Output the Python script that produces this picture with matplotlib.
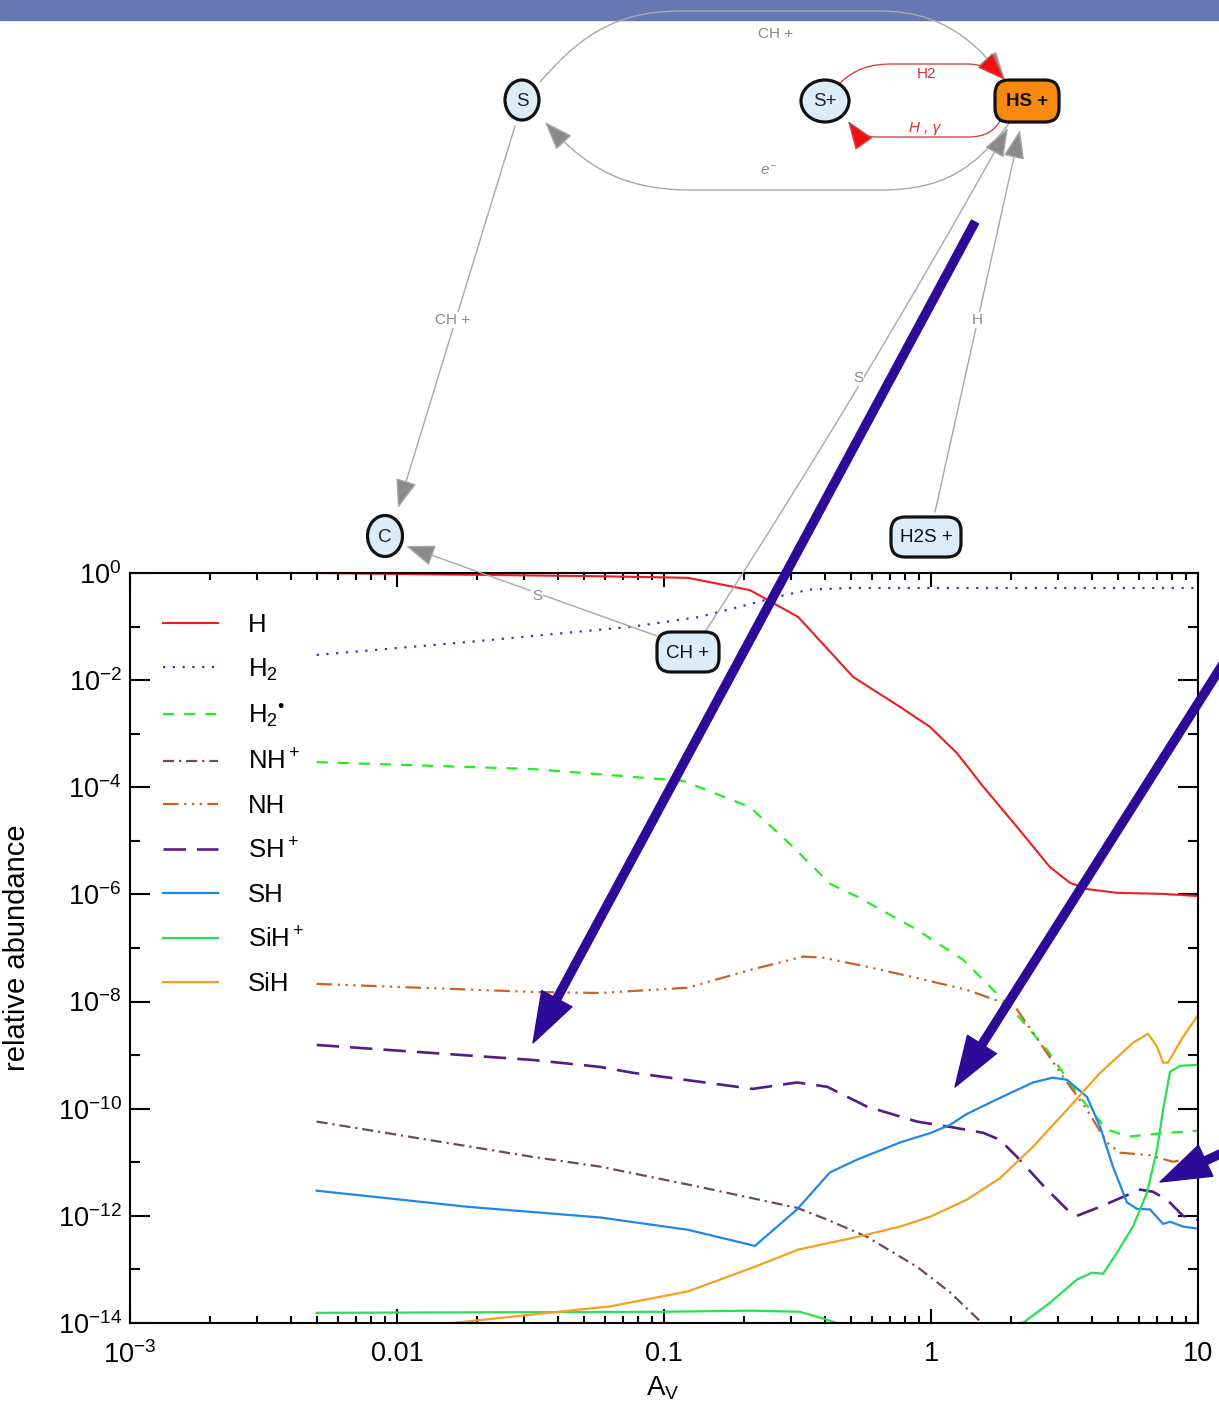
import numpy as np
import matplotlib
matplotlib.use("Agg")
import matplotlib.pyplot as plt
from matplotlib.patches import Ellipse, FancyBboxPatch, FancyArrowPatch, Rectangle
from matplotlib.path import Path
from matplotlib.ticker import FixedLocator, FixedFormatter, FuncFormatter, NullFormatter, LogLocator

plt.rcParams['font.family'] = ['Liberation Sans', 'DejaVu Sans']
plt.rcParams['mathtext.fontset'] = 'custom'
plt.rcParams['mathtext.rm'] = 'Liberation Sans'
plt.rcParams['mathtext.it'] = 'Liberation Sans:italic'
plt.rcParams['mathtext.bf'] = 'Liberation Sans:bold'

# --- abundances (A_V, log10 n(X)/nH) ---
av_H = [0.005, 0.057, 0.123, 0.21, 0.318, 0.511, 0.766, 0.99, 1.25, 1.57, 2.10, 2.79, 3.31, 3.84, 4.97, 7.40, 10.0]
lg_H = [0.0, -0.06, -0.09, -0.32, -0.82, -1.94, -2.50, -2.87, -3.36, -3.99, -4.74, -5.49, -5.78, -5.90, -5.97, -5.99, -6.03]

av_H2 = [0.005, 0.0183, 0.0766, 0.136, 0.21, 0.279, 0.35, 0.5, 10.0]
lg_H2 = [-1.53, -1.29, -1.0, -0.82, -0.58, -0.42, -0.31, -0.28, -0.28]

av_H2s = [0.005, 0.0323, 0.118, 0.21, 0.304, 0.394, 0.418, 0.529, 0.886, 1.32, 1.98, 2.72, 3.61, 4.56, 5.5, 7.66, 10.0]
lg_H2s = [-3.53, -3.66, -3.88, -4.37, -5.11, -5.67, -5.80, -6.04, -6.66, -7.22, -8.10, -8.90, -9.78, -10.39, -10.52, -10.45, -10.41]

av_NHp = [0.005, 0.0323, 0.0576, 0.136, 0.315, 0.408, 0.575, 0.886, 1.18, 1.53, 1.8]
lg_NHp = [-10.24, -10.90, -11.08, -11.46, -11.85, -12.07, -12.39, -12.95, -13.43, -13.97, -14.4]

av_NH = [0.005, 0.0323, 0.0576, 0.123, 0.21, 0.332, 0.394, 0.575, 0.886, 1.36, 1.81, 2.10, 2.56, 3.12, 3.84, 4.56, 5.10, 6.61, 8.06, 10.0]
lg_NH = [-7.67, -7.82, -7.84, -7.74, -7.41, -7.16, -7.18, -7.35, -7.56, -7.78, -8.0, -8.15, -8.77, -9.40, -10.02, -10.63, -10.82, -10.87, -10.99, -10.90]

av_SHp = [0.005, 0.0323, 0.0576, 0.0766, 0.215, 0.315, 0.408, 0.575, 0.886, 1.18, 1.57, 1.81, 2.10, 2.66, 3.23, 3.52, 4.30, 6.06, 6.78, 7.66, 8.79, 10.0]
lg_SHp = [-8.81, -9.09, -9.22, -9.33, -9.63, -9.51, -9.59, -9.96, -10.24, -10.34, -10.45, -10.58, -10.90, -11.46, -11.88, -12.0, -11.83, -11.51, -11.55, -11.70, -12.0, -12.07]

av_SH = [0.005, 0.0183, 0.0576, 0.123, 0.219, 0.315, 0.418, 0.529, 0.766, 1.0, 1.18, 1.36, 1.81, 2.41, 2.86, 3.23, 3.84, 4.30, 4.80, 5.42, 5.91, 6.61, 7.40, 7.86, 8.79, 10.0]
lg_SH = [-11.53, -11.83, -12.03, -12.26, -12.56, -11.88, -11.19, -10.95, -10.63, -10.45, -10.30, -10.10, -9.80, -9.51, -9.42, -9.46, -9.78, -10.34, -11.08, -11.75, -11.87, -11.88, -12.15, -12.11, -12.20, -12.24]

av_SiHp = [0.005, 0.1, 0.21, 0.323, 0.384, 0.445, 0.6, 1.0, 1.8, 2.21, 2.79, 3.52, 4.01, 4.41, 4.97, 5.71, 6.44, 7.02, 7.40, 7.86, 8.56, 10.0]
lg_SiHp = [-13.81, -13.79, -13.77, -13.79, -13.90, -14.0, -14.8, -16.0, -14.8, -14.0, -13.62, -13.19, -13.06, -13.08, -12.69, -12.20, -11.57, -10.77, -10.02, -9.31, -9.20, -9.18]

av_SiH = [0.0125, 0.0162, 0.0323, 0.0628, 0.123, 0.219, 0.318, 0.511, 0.766, 1.0, 1.36, 1.81, 2.41, 3.23, 4.30, 5.71, 6.50, 7.02, 7.40, 7.72, 8.79, 10.0]
lg_SiH = [-14.2, -14.0, -13.84, -13.69, -13.41, -12.95, -12.63, -12.41, -12.20, -12.01, -11.70, -11.30, -10.71, -10.02, -9.33, -8.77, -8.60, -8.84, -9.14, -9.14, -8.66, -8.25]

species = ["H", "H$_2$", "H$_2{}^{\u2022}$", "NH$^+$", "NH", "SH$^+$", "SH", "SiH$^+$", "SiH"]
series_av = [av_H, av_H2, av_H2s, av_NHp, av_NH, av_SHp, av_SH, av_SiHp, av_SiH]
series_lg = [lg_H, lg_H2, lg_H2s, lg_NHp, lg_NH, lg_SHp, lg_SH, lg_SiHp, lg_SiH]
colors = ['#ee1c1c', '#3232d8', '#22ee22', '#6e4a5e', '#c8641e', '#561a86', '#1e88e8', '#28e050', '#f5a020']
styles = ['-', (0, (1, 3.4)), (0, (5, 4.5)), (0, (5, 2.2, 1, 2.2)),
          (0, (7, 2.5, 1, 2.5, 1, 2.5, 1, 2.5)), (0, (8.5, 4.2)), '-', '-', '-']
widths = [1.5, 1.6, 1.6, 1.6, 1.6, 1.9, 1.6, 1.6, 1.6]

xtick_vals = [1e-3, 1e-2, 1e-1, 1, 10]
xtick_labels = ['$10^{-3}$', '0.01', '0.1', '1', '10']

W, H = 1219, 1405
fig = plt.figure(figsize=(W / 100, H / 100), dpi=100)
ax = fig.add_axes([130 / W, 82 / H, 1068 / W, 750 / H])

for av, lg, lab, c, ls, lw in zip(series_av, series_lg, species, colors, styles, widths):
    ax.plot(av, 10.0 ** np.array(lg), color=c, ls=ls, lw=lw, label=lab)

ax.set_xscale('log')
ax.set_yscale('log')
ax.set_xlim(1e-3, 10)
ax.set_ylim(1e-14, 1)

ax.yaxis.set_major_locator(FixedLocator(10.0 ** np.arange(-14, 1, 2)))
ax.yaxis.set_minor_locator(FixedLocator(10.0 ** np.arange(-13, 0, 2)))
ax.yaxis.set_major_formatter(FuncFormatter(lambda v, p: r'$10^{%d}$' % round(np.log10(v))))
ax.yaxis.set_minor_formatter(NullFormatter())
ax.xaxis.set_major_locator(FixedLocator(xtick_vals))
ax.xaxis.set_major_formatter(FixedFormatter(xtick_labels))
ax.xaxis.set_minor_locator(LogLocator(base=10, subs=np.arange(2, 10)))
ax.xaxis.set_minor_formatter(NullFormatter())

ax.tick_params(which='both', direction='in', top=True, right=True, width=1.5, labelsize=19.5)
ax.tick_params(axis='y', which='major', length=14.5, pad=6)
ax.tick_params(axis='y', which='minor', length=7.5)
ax.tick_params(axis='x', which='major', length=10, pad=13)
ax.tick_params(axis='x', which='minor', length=5)
for sp in ax.spines.values():
    sp.set_linewidth(1.5)

ax.set_ylabel('relative abundance', fontsize=21)
ax.yaxis.set_label_coords(-0.093, 0.5)
ax.set_xlabel(r'$\mathrm{A}_\mathrm{V}$', fontsize=20)
ax.xaxis.set_label_coords(0.499, -0.068)

ax.legend(loc='upper left', bbox_to_anchor=(0.031, 0.947), frameon=False, fontsize=18.5,
          handlelength=2.14, handletextpad=1.17, labelspacing=0.765, borderpad=0, borderaxespad=0)

# --- reaction network overlay (pixel coordinates) ---
ov = fig.add_axes([0, 0, 1, 1])
ov.set_xlim(0, W)
ov.set_ylim(H, 0)
ov.axis('off')
ov.patch.set_alpha(0)

ov.add_patch(Rectangle((0, 0), W, 20, color='#6678b4', zorder=0))

gray_line, gray_head = '#a8a8a8', '#8a8a8a'
red_line, red_head = '#d04848', '#ee1010'


def edge(verts, codes, line, head, lw=1.0):
    p = FancyArrowPatch(path=Path(verts, codes), arrowstyle='-|>,head_length=0.65,head_width=0.24',
                        mutation_scale=28, edgecolor=line, facecolor=head, lw=lw, zorder=3)
    ov.add_patch(p)


M, L, C = Path.MOVETO, Path.LINETO, Path.CURVE4
# S -> HS+ (over the top)
edge([(540, 82), (575, 42), (610, 11), (680, 11), (880, 11), (945, 11), (978, 45), (1005, 80)],
     [M, C, C, C, L, C, C, C], gray_line, gray_head)
# HS+ -> S (bottom)
edge([(1010, 122), (975, 168), (945, 190), (880, 190), (690, 190), (615, 190), (580, 160), (545, 122)],
     [M, C, C, C, L, C, C, C], gray_line, gray_head)
# S+ -> HS+ (red, H2)
edge([(840, 83), (855, 69), (870, 64), (892, 64), (965, 64), (985, 64), (995, 70), (1005, 80)],
     [M, C, C, C, L, C, C, C], red_line, red_head)
# HS+ -> S+ (red, H, gamma)
edge([(1000, 121), (994, 131), (985, 137), (968, 137), (878, 137), (862, 137), (855, 131), (848, 121)],
     [M, C, C, C, L, C, C, C], red_line, red_head)
# S -> C
edge([(515, 126), (398, 508)], [M, L], gray_line, gray_head)
# CH+ -> C
edge([(657, 636), (406, 546)], [M, L], gray_line, gray_head)
# CH+ -> HS+
edge([(705, 632), (865, 385), (1008, 128)], [M, Path.CURVE3, Path.CURVE3], gray_line, gray_head)
# H2S+ -> HS+
edge([(935, 512), (1020, 130)], [M, L], gray_line, gray_head)

elabels = [(776, 34, 'CH +', gray_head, 'normal'), (768, 171, '$e^{-}$', gray_head, 'normal'),
           (927, 74, 'H2', '#d83030', 'normal'), (925, 128, 'H , \u03b3', '#d83030', 'italic'),
           (453, 320, 'CH +', gray_head, 'normal'), (537, 596, 'S', gray_head, 'normal'),
           (858, 378, 'S', gray_head, 'normal'), (977, 320, 'H', gray_head, 'normal')]
for x, y, t, c, st in elabels:
    ov.text(x, y, t, color=c, fontsize=11, style=st, ha='center', va='center', zorder=4,
            bbox=dict(boxstyle='square,pad=0.08', fc='white', ec='none'))

node_fill = '#dcedf9'
for x, y, w, h, t in [(522, 100, 34, 40, 'S'), (825, 101, 48, 42, 'S+'), (385, 536, 35, 41, 'C')]:
    ov.add_patch(Ellipse((x, y), w, h, fc=node_fill, ec='#111111', lw=2.3, zorder=5))
    ov.text(x, y + 1, t, fontsize=13.5, ha='center', va='center', color='#222222', zorder=6)

for x, y, w, h, t, fc, fw in [(1027, 101, 64, 42, 'HS +', '#f78a0e', 'bold'),
                              (926, 537, 70, 40, 'H2S +', node_fill, 'normal'),
                              (688, 652, 62, 40, 'CH +', node_fill, 'normal')]:
    ov.add_patch(FancyBboxPatch((x - w / 2 + 14, y - h / 2 + 14), w - 28, h - 28,
                                boxstyle='round,pad=14', fc=fc, ec='#111111', lw=2.3, zorder=5))
    ov.text(x, y + 1, t, fontsize=13.5, ha='center', va='center', color='#111111',
            fontweight=fw, zorder=6)

# highlighting arrows
for tail, tip in [((975, 222), (533, 1043)), ((1240, 637), (955, 1087)), ((1250, 1140), (1160, 1182))]:
    ov.add_patch(FancyArrowPatch(tail, tip, arrowstyle='simple,head_length=1.25,head_width=0.85,tail_width=0.2',
                                 mutation_scale=29, color='#2e0a98', shrinkA=0, shrinkB=0, zorder=10))

fig.savefig('out.png', dpi=100)
